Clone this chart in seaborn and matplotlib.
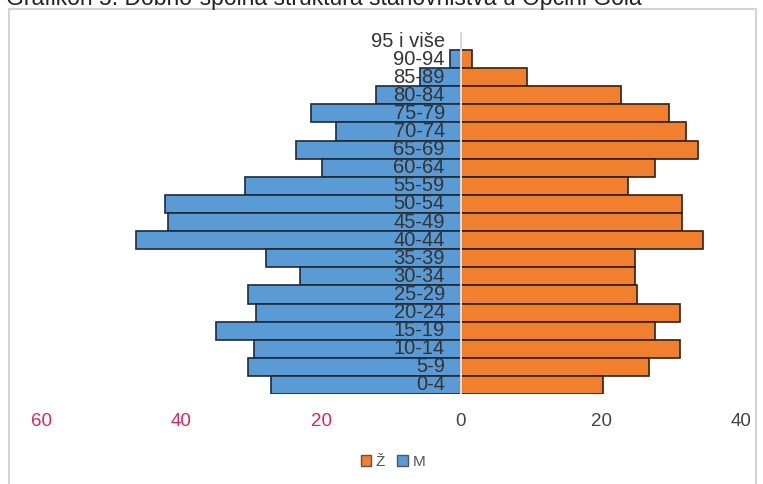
import matplotlib
matplotlib.use("Agg")
import matplotlib.pyplot as plt
from matplotlib.patches import Patch, Rectangle
import numpy as np
import pandas as pd
import seaborn as sns

# dobne skupine, odozgo prema dolje
dobne_skupine = ["95 i više", "90-94", "85-89", "80-84", "75-79", "70-74",
                 "65-69", "60-64", "55-59", "50-54", "45-49", "40-44",
                 "35-39", "30-34", "25-29", "20-24", "15-19", "10-14",
                 "5-9", "0-4"]
muskarci = [0, 1.6, 5.8, 12.1, 21.5, 17.8, 23.6, 19.8, 30.8, 42.3, 41.8, 46.4,
            27.9, 23.0, 30.5, 29.3, 35.0, 29.6, 30.5, 27.2]
zene = [0, 1.6, 9.4, 22.8, 29.7, 32.1, 33.8, 27.7, 23.9, 31.6, 31.6, 34.5,
        24.8, 24.8, 25.1, 31.3, 27.7, 31.3, 26.9, 20.3]
x_tickovi = [-60, -40, -20, 0, 20, 40]

plava = "#5b9bd5"
narancasta = "#f0802e"

df = pd.DataFrame({"dob": dobne_skupine,
                   "M": [-v for v in muskarci],
                   "Z": zene})

sns.set_style("white")
plt.rcParams["font.family"] = ["Liberation Sans", "DejaVu Sans"]

fig = plt.figure(figsize=(7.63, 4.84), dpi=100)
W, H = 763, 484
# os: lijevo 30px, desno 750px, gore 32px, dolje 394px
ax = fig.add_axes([30 / W, (H - 394) / H, 720 / W, 362 / H])

sns.barplot(data=df, x="M", y="dob", order=dobne_skupine, color=plava,
            edgecolor="#1c2a38", linewidth=1.2, width=1.0, orient="h",
            saturation=1, ax=ax)
sns.barplot(data=df, x="Z", y="dob", order=dobne_skupine, color=narancasta,
            edgecolor="#33200e", linewidth=1.2, width=1.0, orient="h",
            saturation=1, ax=ax)
ax.axvline(0, color="white", lw=1.2, zorder=5)

ax.set_xlim((30 - 461) / 7, (750 - 461) / 7)
ax.set_ylim(len(dobne_skupine) - 0.5, -0.5)
for s in ax.spines.values():
    s.set_visible(False)
ax.set_xlabel("")
ax.set_ylabel("")
ax.set_yticks([])
ax.set_xticks(x_tickovi)
ax.set_xticklabels([str(abs(t)) for t in x_tickovi], fontsize=13.5)
ax.tick_params(axis="x", length=0, pad=14)
for t, lab in zip(x_tickovi, ax.get_xticklabels()):
    lab.set_color("#e0245e" if t < 0 else "#444444")

# oznake dobnih skupina uz sredinu
for i, d in enumerate(dobne_skupine):
    ax.text(-2.3, i, d, ha="right", va="center", fontsize=14.5,
            color="#333333", zorder=6)

# okvir
fig.patches.append(Rectangle((9 / W, -0.05), 747 / W, 1.05 - 9 / H,
                             transform=fig.transFigure, fill=False,
                             edgecolor="#d4d4d4", lw=1.5))

# naslov (odrezan na vrhu, kao u izvorniku)
fig.text(6 / W, 1 - 5 / H, "Grafikon 5. Dobno-spolna struktura stanovništva u Općini Gola",
         ha="left", va="baseline", fontsize=16.5, color="#222222")

ruke = [Patch(facecolor=narancasta, edgecolor="#555555", label="Ž"),
        Patch(facecolor=plava, edgecolor="#555555", label="M")]
fig.legend(handles=ruke, loc="center", bbox_to_anchor=(393 / W, 1 - 462 / H),
           ncol=2, frameon=False, fontsize=11, handlelength=0.7,
           handleheight=0.7, handletextpad=0.3, columnspacing=0.8,
           labelcolor="#555555")

fig.savefig("out.png", dpi=100)
